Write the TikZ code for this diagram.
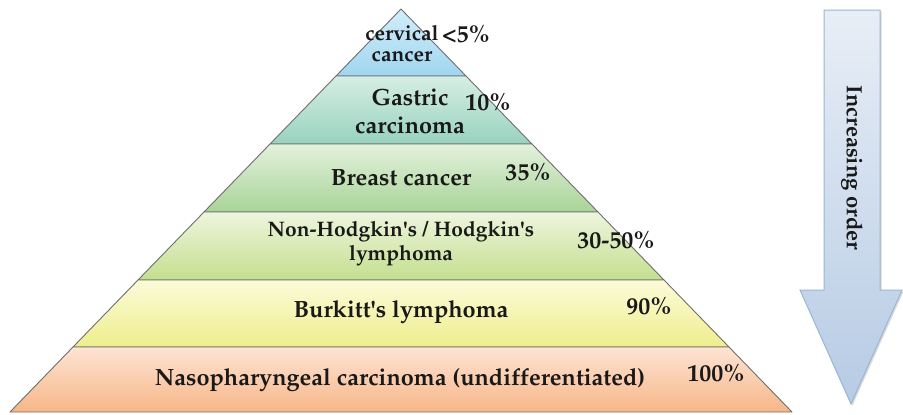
\documentclass[tikz,border=0pt]{standalone}
\usepackage[T1]{fontenc}
\usepackage{mathpazo}
\usepackage{textcomp}
\usepackage{tikz}
\usetikzlibrary{positioning, shadows}

\definecolor{bandline}{HTML}{6E6E6E}
\definecolor{arrowline}{HTML}{9AB5D8}

\newcommand{\apos}{\textquotesingle}

\tikzset{
  band/.style={draw=bandline, line width=0.9pt, line join=round},
  lbl/.style={font=\fontsize{23.5}{28}\selectfont\bfseries, text=black!90, align=center, inner sep=0pt},
  pct/.style={font=\fontsize{24}{26}\selectfont\bfseries, text=black!90, inner sep=0pt}
}

\begin{document}
\begin{tikzpicture}[x=1pt, y=-1pt]
  \useasboundingbox (0,0) rectangle (903,415);

  % Pyramid bands (top to bottom)
  \shade[band, top color={rgb,255:red,210;green,237;blue,249}, bottom color={rgb,255:red,160;green,214;blue,240}]
    (401,9) -- (466,76) -- (336,76) -- cycle;
  \shade[band, top color={rgb,255:red,214;green,238;blue,228}, bottom color={rgb,255:red,152;green,210;blue,190}]
    (336,76) -- (466,76) -- (532,144) -- (270,144) -- cycle;
  \shade[band, top color={rgb,255:red,228;green,241;blue,220}, bottom color={rgb,255:red,168;green,212;blue,152}]
    (270,144) -- (532,144) -- (598,212) -- (204,212) -- cycle;
  \shade[band, top color={rgb,255:red,238;green,245;blue,222}, bottom color={rgb,255:red,196;green,223;blue,142}]
    (204,212) -- (598,212) -- (664,280) -- (138,280) -- cycle;
  \shade[band, top color={rgb,255:red,252;green,251;blue,218}, bottom color={rgb,255:red,238;green,238;blue,140}]
    (138,280) -- (664,280) -- (729,347) -- (73,347) -- cycle;
  \shade[band, top color={rgb,255:red,253;green,228;blue,212}, bottom color={rgb,255:red,247;green,182;blue,136}]
    (73,347) -- (729,347) -- (792,412) -- (10,412) -- cycle;

  % Band labels
  \node[lbl, font=\fontsize{21}{21}\selectfont\bfseries] (cervix) at (402,44) {cervical\\cancer};
  \node[lbl] (gastric) at (410,111) {Gastric\\carcinoma};
  \node[lbl] (breast) at (401,178) {Breast cancer};
  \node[lbl, font=\fontsize{21}{24}\selectfont\bfseries] (lymph) at (401,244) {Non-Hodgkin\apos s / Hodgkin\apos s\\lymphoma};
  \node[lbl] (burkitt) at (401,312) {Burkitt\apos s lymphoma};
  \node[lbl] (naso) at (400,380) {Nasopharyngeal carcinoma (undifferentiated)};

  % Percentages
  \node[pct] (p1) at (466,34) {<5\%};
  \node[pct] (p2) at (488,102) {10\%};
  \node[pct] (p3) at (528,172) {35\%};
  \node[pct] (p4) at (616,240) {30-50\%};
  \node[pct] (p5) at (649,306) {90\%};
  \node[pct] (p6) at (716,373) {100\%};

  % Increasing order arrow
  \shade[draw=arrowline, line width=1pt, line join=miter,
         top color={rgb,255:red,232;green,238;blue,246}, bottom color={rgb,255:red,182;green,203;blue,228},
         drop shadow={shadow xshift=1.5pt, shadow yshift=-1.5pt, opacity=0.3}]
    (824,10) -- (880,10) -- (880,290) -- (902,290) -- (851,404) -- (800,290) -- (824,290) -- cycle;
  \node[lbl, font=\fontsize{22}{24}\selectfont\bfseries, rotate=-90] (order) at (852,168) {Increasing order};
\end{tikzpicture}
\end{document}
